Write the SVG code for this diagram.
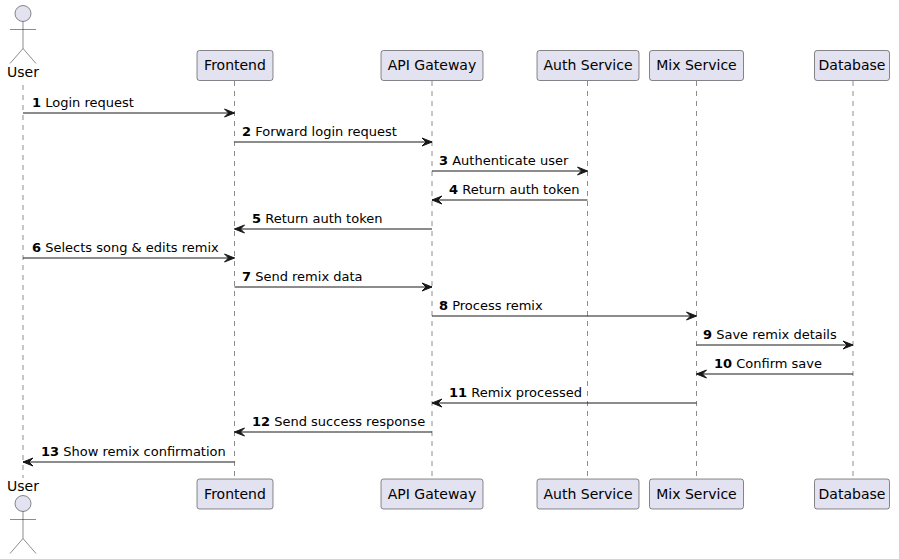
<svg xmlns="http://www.w3.org/2000/svg" width="899" height="559" viewBox="0 0 899 559">
<style>
.bg{fill:#FFFFFF}
.box{fill:#E2E2F0;stroke:#181818;stroke-width:0.5}
.life{stroke:#181818;stroke-width:0.5;stroke-dasharray:5,5;fill:none}
.actor{fill:#E2E2F0;stroke:#181818;stroke-width:0.5}
.pl{font-family:"DejaVu Sans",sans-serif;font-size:14px;fill:#000000;text-anchor:middle}
.msg{font-family:"DejaVu Sans",sans-serif;font-size:13px;fill:#000000}
.num{font-weight:bold}
.arr{stroke:#181818;stroke-width:1;fill:none}
</style>
<defs>
<marker id="ah" viewBox="-2 -2 14 12" refX="10" refY="4" markerWidth="14" markerHeight="12" markerUnits="userSpaceOnUse" orient="auto" overflow="visible">
<polygon points="0,0 10,4 0,8 4,4" fill="#181818" stroke="#181818" stroke-width="1" stroke-linejoin="miter"/>
</marker>
</defs>
<rect class="bg" x="0" y="0" width="899" height="559"/>

<g id="lifelines">
<line class="life" x1="23" y1="85" x2="23" y2="478"/>
<line class="life" x1="234.5" y1="81" x2="234.5" y2="479"/>
<line class="life" x1="432" y1="81" x2="432" y2="479"/>
<line class="life" x1="587.5" y1="81" x2="587.5" y2="479"/>
<line class="life" x1="696.5" y1="81" x2="696.5" y2="479"/>
<line class="life" x1="853" y1="81" x2="853" y2="479"/>
</g>

<g id="User">
<g class="actor" transform="translate(23,13.5)"><circle cx="0" cy="0" r="8"/><path d="M0,8 L0,35 M-13,16 L13,16 M0,35 L-13,50 M0,35 L13,50" fill="none"/></g>
<text class="pl" x="23" y="77">User</text>
<text class="pl" x="23" y="491">User</text>
<g class="actor" transform="translate(23,503.5)"><circle cx="0" cy="0" r="8"/><path d="M0,8 L0,35 M-13,16 L13,16 M0,35 L-13,50 M0,35 L13,50" fill="none"/></g>
</g>

<g id="Frontend">
<rect class="box" x="197" y="50.5" width="76" height="30" rx="2.5"/>
<text class="pl" x="235" y="70">Frontend</text>
<rect class="box" x="197" y="479" width="76" height="30" rx="2.5"/>
<text class="pl" x="235" y="498.5">Frontend</text>
</g>

<g id="APIGateway">
<rect class="box" x="381" y="50.5" width="102" height="30" rx="2.5"/>
<text class="pl" x="432" y="70">API Gateway</text>
<rect class="box" x="381" y="479" width="102" height="30" rx="2.5"/>
<text class="pl" x="432" y="498.5">API Gateway</text>
</g>

<g id="AuthService">
<rect class="box" x="537" y="50.5" width="102" height="30" rx="2.5"/>
<text class="pl" x="588" y="70">Auth Service</text>
<rect class="box" x="537" y="479" width="102" height="30" rx="2.5"/>
<text class="pl" x="588" y="498.5">Auth Service</text>
</g>

<g id="MixService">
<rect class="box" x="649.5" y="50.5" width="94" height="30" rx="2.5"/>
<text class="pl" x="696.5" y="70">Mix Service</text>
<rect class="box" x="649.5" y="479" width="94" height="30" rx="2.5"/>
<text class="pl" x="696.5" y="498.5">Mix Service</text>
</g>

<g id="Database">
<rect class="box" x="814.5" y="50.5" width="75" height="30" rx="2.5"/>
<text class="pl" x="852" y="70">Database</text>
<rect class="box" x="814.5" y="479" width="75" height="30" rx="2.5"/>
<text class="pl" x="852" y="498.5">Database</text>
</g>

<g id="connectors">
<line class="arr" x1="23" y1="113" x2="234.5" y2="113" marker-end="url(#ah)"/>
<text class="msg" x="32" y="107"><tspan class="num">1</tspan> Login request</text>

<line class="arr" x1="234.5" y1="142" x2="432" y2="142" marker-end="url(#ah)"/>
<text class="msg" x="242" y="136"><tspan class="num">2</tspan> Forward login request</text>

<line class="arr" x1="432" y1="171" x2="587.5" y2="171" marker-end="url(#ah)"/>
<text class="msg" x="439" y="165"><tspan class="num">3</tspan> Authenticate user</text>

<line class="arr" x1="587.5" y1="200" x2="432" y2="200" marker-end="url(#ah)"/>
<text class="msg" x="449" y="194"><tspan class="num">4</tspan> Return auth token</text>

<line class="arr" x1="432" y1="229" x2="234.5" y2="229" marker-end="url(#ah)"/>
<text class="msg" x="252" y="223"><tspan class="num">5</tspan> Return auth token</text>

<line class="arr" x1="23" y1="258" x2="234.5" y2="258" marker-end="url(#ah)"/>
<text class="msg" x="32" y="252"><tspan class="num">6</tspan> Selects song &amp; edits remix</text>

<line class="arr" x1="234.5" y1="287" x2="432" y2="287" marker-end="url(#ah)"/>
<text class="msg" x="242" y="281"><tspan class="num">7</tspan> Send remix data</text>

<line class="arr" x1="432" y1="316" x2="696.5" y2="316" marker-end="url(#ah)"/>
<text class="msg" x="439" y="310"><tspan class="num">8</tspan> Process remix</text>

<line class="arr" x1="696.5" y1="345" x2="853" y2="345" marker-end="url(#ah)"/>
<text class="msg" x="703" y="339"><tspan class="num">9</tspan> Save remix details</text>

<line class="arr" x1="853" y1="374" x2="696.5" y2="374" marker-end="url(#ah)"/>
<text class="msg" x="714" y="368"><tspan class="num">10</tspan> Confirm save</text>

<line class="arr" x1="696.5" y1="403" x2="432" y2="403" marker-end="url(#ah)"/>
<text class="msg" x="449" y="397"><tspan class="num">11</tspan> Remix processed</text>

<line class="arr" x1="432" y1="432" x2="234.5" y2="432" marker-end="url(#ah)"/>
<text class="msg" x="252" y="426"><tspan class="num">12</tspan> Send success response</text>

<line class="arr" x1="234.5" y1="462" x2="23" y2="462" marker-end="url(#ah)"/>
<text class="msg" x="41" y="456"><tspan class="num">13</tspan> Show remix confirmation</text>
</g>
</svg>
